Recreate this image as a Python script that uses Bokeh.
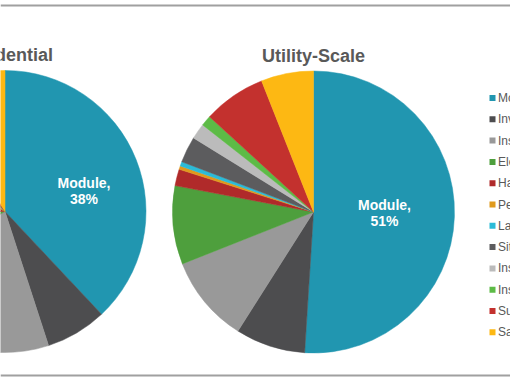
import math
from bokeh.plotting import figure
from bokeh.models import Range1d, Span, ColumnDataSource
from bokeh.embed import file_html
from bokeh.resources import INLINE
from bokeh.core.properties import value

# ---------------- data ----------------
categories = ["Module", "Inverter", "Installation Labor", "Electrical BOS",
              "Hardware BOS", "Permitting", "Land Acquisition", "Site Preparation",
              "Inspection", "Installer Overhead", "Supply Chain", "Sales Tax"]
colors = ["#2196B0", "#4D4D4F", "#999999", "#4E9F3D",
          "#B02A2A", "#E09A1C", "#2BBBD8", "#5C5C5E",
          "#BBBBBB", "#5DBB46", "#C3312E", "#FDB813"]
residential = [38, 7, 22, 8, 8, 3, 0, 1, 1, 1, 2, 9]
utility = [51, 8, 10, 9, 1.9, 0.4, 0.5, 3.0, 1.8, 1.2, 7.2, 6.0]
pie_titles = ["Residential", "Utility-Scale"]

# ---------------- layout (page pixel coords, y measured downward) ----------------
W, H = 510, 382
PX0, PY0 = 0, 0          # page offset of the figure
PAGE_H = 382


def Y(py):
    return PAGE_H - py


p = figure(width=W, height=H, output_backend="svg", toolbar_location=None,
           x_range=Range1d(PX0, PX0 + W), y_range=Range1d(Y(PY0 + H), Y(PY0)),
           min_border=0, min_border_left=0, min_border_right=0,
           min_border_top=0, min_border_bottom=0)
p.axis.visible = False
p.grid.visible = False
p.outline_line_color = None
p.background_fill_color = "white"
p.border_fill_color = "white"

font = value("Liberation Sans")
title_color = "#595959"
R = 141
pies = [
    dict(vals=residential, cx=4.5, cy=211, title_y=54,
         lab_x=83.5, lab_y=(182, 198)),
    dict(vals=utility, cx=313, cy=211.5, title_y=55,
         lab_x=384, lab_y=(204, 220)),
]

for title, pie in zip(pie_titles, pies):
    vals = pie["vals"]
    total = float(sum(vals))
    starts, ends, cols, cum = [], [], [], 0.0
    for v, c in zip(vals, colors):
        a0 = cum / total * 2 * math.pi
        cum += v
        a1 = cum / total * 2 * math.pi
        if v <= 0:
            continue  # an empty slice would otherwise render as a full disc
        starts.append(math.pi / 2 - a0)
        ends.append(math.pi / 2 - a1)
        cols.append(c)
    src = ColumnDataSource(dict(start=starts, end=ends, color=cols,
                                x=[pie["cx"]] * len(cols),
                                y=[Y(pie["cy"])] * len(cols)))
    p.wedge(x="x", y="y", radius=R, start_angle="start", end_angle="end",
            direction="clock", fill_color="color", line_color="color",
            line_width=0.5, source=src)
    p.text(x=[pie["cx"]], y=[Y(pie["title_y"])], text=[title],
           text_font=font, text_font_style="bold", text_font_size="18px",
           text_color=title_color, text_align="center", text_baseline="alphabetic")
    share = round(vals[0] / total * 100)
    p.text(x=[pie["lab_x"]] * 2, y=[Y(pie["lab_y"][0]), Y(pie["lab_y"][1])],
           text=[categories[0] + ",", f"{share}%"],
           text_font=font, text_font_style="bold", text_font_size="14px",
           text_color="white", text_align="center", text_baseline="middle")

# legend
leg_y = [Y(97.5 + i * 21.3) for i in range(len(categories))]
p.scatter(x=[492] * len(categories), y=leg_y, marker="square", size=6,
          fill_color=colors, line_color=None)
p.text(x=[497.5] * len(categories), y=leg_y, text=categories,
       text_font=font, text_font_size="12px", text_color=title_color,
       text_align="left", text_baseline="middle")

# frame lines of the original chart box
p.add_layout(Span(location=Y(5), dimension="width", line_color="#a0a0a0", line_width=2))
p.add_layout(Span(location=Y(375), dimension="width", line_color="#a0a0a0", line_width=2))

open("out.html", "w").write(file_html(p, INLINE))
